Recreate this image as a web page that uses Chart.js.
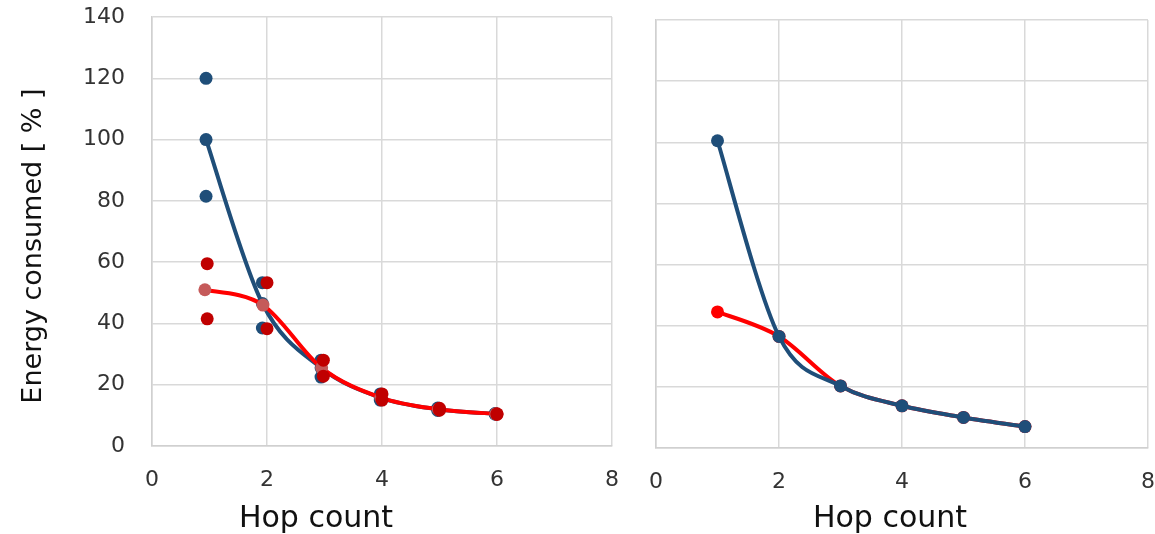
<!DOCTYPE html>
<html>
<head>
<meta charset="utf-8">
<script src="https://cdn.jsdelivr.net/npm/chart.js@4/dist/chart.umd.min.js"></script>
<style>
  body { margin: 0; background: #fff; }
  #wrap { position: relative; width: 1155px; height: 534px; }
  canvas { position: absolute; top: 0; }
  #left { left: 0; }
  #right { left: 630px; }
</style>
</head>
<body>
<div id="wrap">
  <canvas id="left" width="630" height="534"></canvas>
  <canvas id="right" width="525" height="534"></canvas>
</div>
<script>
// left panel: spread of runs (min / max) plus the mean curve
const leftBlueHops = [0.94, 1.92, 2.94, 3.97, 4.97, 5.97];
const leftBlueMean = [100, 46.5, 25.5, 15.8, 12, 10.5];
const leftBlueMax = [120, 53.3, 28, 17, 12.4, 10.6];
const leftBlueMin = [81.5, 38.5, 22.5, 15, 11.6, 10.4];

const leftRedHops = [0.96, 2.0, 2.98, 4.0, 5.0, 6.0];
const leftRedMax = [59.5, 53.3, 28, 17, 12.3, 10.5];
const leftRedMin = [41.5, 38.3, 22.8, 15, 11.7, 10.3];
const leftRedMeanHops = [0.92, 1.93, 2.95, 3.98, 4.98, 5.98];
const leftRedMean = [51, 46, 25.5, 15.8, 12, 10.5];

// right panel
const rightHops = [1, 2, 3, 4, 5, 6];
const rightBlue = [100.5, 36.5, 20.3, 13.8, 10, 7];
const rightRed = [44.5, 36.5, 20.3, 13.8, 10, 7];

const xTicks = [0, 2, 4, 6, 8];
const yTicks = [0, 20, 40, 60, 80, 100, 120, 140];

const BLUE = '#1f4e79';
const DARKRED = '#c00000';
const PINK = '#c55a5a';
const RED = '#ff0000';
const GRID = '#d9d9d9';
const FONT = 'DejaVu Sans';

const pts = (xs, ys) => xs.map((x, i) => ({ x: x, y: ys[i] }));

// axis titles drawn onto the canvas
const titlePlugin = (items) => ({
    id: 'axisTitles',
    afterDraw(chart) {
        const ctx = chart.ctx;
        items.forEach(t => {
            ctx.save();
            ctx.translate(t.x, t.y);
            if (t.rotate) ctx.rotate(t.rotate);
            ctx.font = t.size + 'px "' + FONT + '"';
            ctx.fillStyle = '#111';
            ctx.textAlign = 'center';
            ctx.textBaseline = 'alphabetic';
            ctx.fillText(t.text, 0, 0);
            ctx.restore();
        });
    }
});

// spreadsheet-style smoothing: uniform catmull-rom tangents instead of
// chart.js's distance weighted ones
const smoothPlugin = {
    id: 'smoothLines',
    beforeDatasetDraw(chart, args) {
        const meta = args.meta;
        const line = meta.dataset;
        if (!line || !chart.data.datasets[args.index].showLine) return;
        line.updateControlPoints(chart.chartArea);
        const p = meta.data;
        const n = p.length;
        for (let i = 0; i < n; i++) {
            const prev = p[Math.max(i - 1, 0)];
            const next = p[Math.min(i + 1, n - 1)];
            const dx = (next.x - prev.x) / 6;
            const dy = (next.y - prev.y) / 6;
            p[i].cp1x = p[i].x - dx;
            p[i].cp1y = p[i].y - dy;
            p[i].cp2x = p[i].x + dx;
            p[i].cp2y = p[i].y + dy;
        }
    }
};

// drop the automatic label padding so layout.padding alone sets the plot box
const noPad = (s) => { s.paddingLeft = 0; s.paddingRight = 0; s.paddingTop = 0; s.paddingBottom = 0; };

function scales(yWidth, xHeight, showY) {
    return {
        x: {
            type: 'linear',
            min: 0,
            max: 8,
            afterBuildTicks: (s) => { s.ticks = xTicks.map(v => ({ value: v })); },
            afterFit: (s) => { s.height = xHeight; noPad(s); },
            ticks: { color: '#333', font: { family: FONT, size: 22 }, padding: 21, maxRotation: 0 },
            grid: { color: GRID, lineWidth: 1.5, drawTicks: false },
            border: { color: '#d0d0d0', width: 1.5 }
        },
        y: {
            min: 0,
            max: 140,
            afterBuildTicks: (s) => { s.ticks = yTicks.map(v => ({ value: v })); },
            afterFit: (s) => { s.width = yWidth; noPad(s); },
            ticks: { display: showY, color: '#333', font: { family: FONT, size: 22 }, padding: 27 },
            grid: { color: GRID, lineWidth: 1.5, drawTicks: false },
            border: { color: '#d0d0d0', width: 1.5 }
        }
    };
}

const dots = (data, color, order) => ({
    data: data,
    showLine: false,
    pointRadius: 6.5,
    pointBackgroundColor: color,
    pointBorderColor: color,
    pointBorderWidth: 0,
    order: order
});

const curve = (data, lineColor, pointColor, order) => ({
    data: data,
    showLine: true,
    tension: 0.33,
    borderColor: lineColor,
    borderWidth: 4,
    pointRadius: 6.5,
    pointBackgroundColor: pointColor,
    pointBorderColor: pointColor,
    pointBorderWidth: 0,
    order: order
});

const common = {
    responsive: false,
    animation: false,
    events: [],
    plugins: { legend: { display: false }, tooltip: { enabled: false } }
};

new Chart(document.getElementById('left'), {
    type: 'scatter',
    data: {
        datasets: [
            curve(pts(leftBlueHops, leftBlueMean), BLUE, BLUE, 4),
            dots(pts(leftBlueHops, leftBlueMax), BLUE, 3),
            dots(pts(leftBlueHops, leftBlueMin), BLUE, 3),
            curve(pts(leftRedMeanHops, leftRedMean), RED, PINK, 2),
            dots(pts(leftRedHops, leftRedMax), DARKRED, 1),
            dots(pts(leftRedHops, leftRedMin), DARKRED, 1)
        ]
    },
    options: Object.assign({}, common, {
        layout: { padding: { top: 17, right: 18, left: 0, bottom: 0 } },
        scales: scales(152, 88, true)
    }),
    plugins: [smoothPlugin, titlePlugin([
        { text: 'Energy consumed [ % ]', x: 41, y: 246, size: 27, rotate: -Math.PI / 2 },
        { text: 'Hop count', x: 316, y: 527, size: 30 }
    ])]
});

new Chart(document.getElementById('right'), {
    type: 'scatter',
    data: {
        datasets: [
            curve(pts(rightHops, rightRed), RED, RED, 2),
            curve(pts(rightHops, rightBlue), BLUE, BLUE, 1)
        ]
    },
    options: Object.assign({}, common, {
        layout: { padding: { top: 20, right: 7, left: 0, bottom: 0 } },
        scales: scales(26, 86, false)
    }),
    plugins: [smoothPlugin, titlePlugin([
        { text: 'Hop count', x: 260, y: 527, size: 30 }
    ])]
});
</script>
</body>
</html>
